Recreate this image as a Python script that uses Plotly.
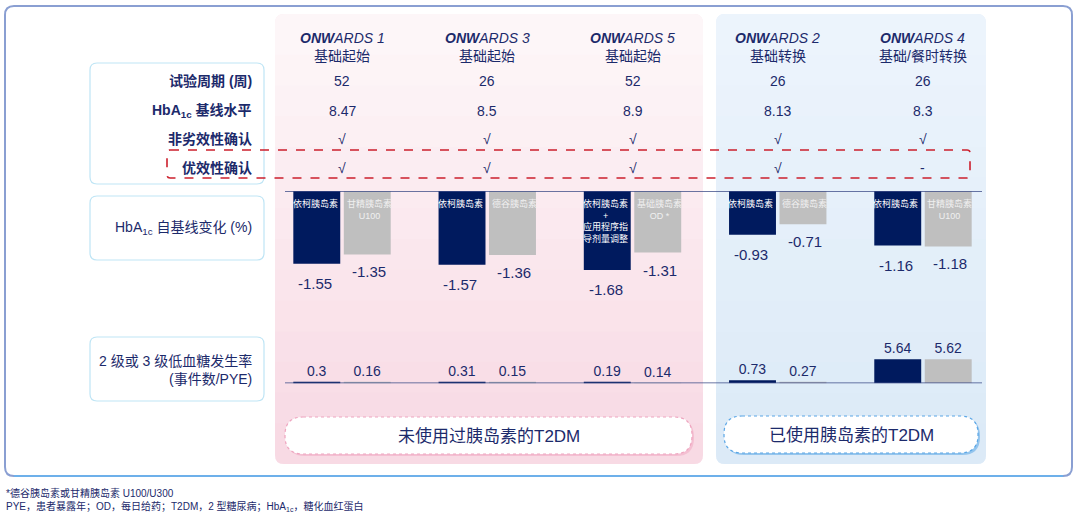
import plotly.graph_objects as go

W, H = 1080, 517

# ---------------- data ----------------
trials = ["ONWARDS 1", "ONWARDS 3", "ONWARDS 5", "ONWARDS 2", "ONWARDS 4"]
trial_nums = ["1", "3", "5", "2", "4"]
subtitles = ["基础起始", "基础起始", "基础起始", "基础转换", "基础/餐时转换"]
weeks = ["52", "26", "52", "26", "26"]
baseline_hba1c = ["8.47", "8.5", "8.9", "8.13", "8.3"]
noninferiority = ["√", "√", "√", "√", "√"]
superiority = ["√", "√", "√", "√", "-"]

efs_hba1c = [-1.55, -1.57, -1.68, -0.93, -1.16]
cmp_hba1c = [-1.35, -1.36, -1.31, -0.71, -1.18]
efs_hypo = [0.3, 0.31, 0.19, 0.73, 5.64]
cmp_hypo = [0.16, 0.15, 0.14, 0.27, 5.62]

efs_names = ["依柯胰岛素", "依柯胰岛素", "依柯胰岛素<br>+<br>应用程序指<br>导剂量调整", "依柯胰岛素", "依柯胰岛素"]
cmp_names = ["甘精胰岛素<br>U100", "德谷胰岛素", "基础胰岛素<br>OD *", "德谷胰岛素", "甘精胰岛素<br>U100"]

row_labels = ["试验周期 (周)", "HbA<sub>1c</sub> 基线水平", "非劣效性确认", "优效性确认"]
hba1c_label = "HbA<sub>1c</sub> 自基线变化 (%)"
hypo_label = "2 级或 3 级低血糖发生率<br>(事件数/PYE)"
group_labels = ["未使用过胰岛素的T2DM", "已使用胰岛素的T2DM"]
footnotes = ["*德谷胰岛素或甘精胰岛素 U100/U300",
             "PYE，患者暴露年；OD，每日给药；T2DM，2 型糖尿病；HbA<sub>1c</sub>，糖化血红蛋白"]

# ---------------- style ----------------
NAVY = "#001a5e"
GRAY = "#bfbfbf"
TXT = "#1c2a6b"
FONT = "Liberation Sans, Arial, Noto Sans CJK SC, sans-serif"


def px(x):
    return x / W


def py(y):
    return 1 - y / H


def rr_path(x0, y0, x1, y1, r):
    X0, X1 = px(x0), px(x1)
    Y0, Y1 = py(y0), py(y1)
    rx, ry = r / W, r / H
    return (f"M {X0+rx},{Y0} L {X1-rx},{Y0} Q {X1},{Y0} {X1},{Y0-ry} "
            f"L {X1},{Y1+ry} Q {X1},{Y1} {X1-rx},{Y1} L {X0+rx},{Y1} "
            f"Q {X0},{Y1} {X0},{Y1+ry} L {X0},{Y0-ry} Q {X0},{Y0} {X0+rx},{Y0} Z")


shapes = []


def rbox(x0, y0, x1, y1, r, fill, line, lw=1, dash="solid", layer="below"):
    shapes.append(dict(type="path", path=rr_path(x0, y0, x1, y1, r), xref="paper", yref="paper",
                       fillcolor=fill, line=dict(color=line, width=lw, dash=dash), layer=layer))


# outer frame
rbox(5, 6, 1072, 476, 9, "white", "#8a9fd2", 2)
shapes.append(dict(type="line", xref="paper", yref="paper", x0=px(14), x1=px(1063), y0=py(476), y1=py(476),
                   line=dict(color="#6db0ea", width=2), layer="below"))
# group panels (vertical gradient approximated with bands)
pink_top, pink_bot = (253, 246, 248), (248, 218, 228)
blue_top, blue_bot = (236, 244, 252), (220, 234, 247)
rbox(275, 14, 703, 464, 9, "rgb(251,236,241)", "rgba(0,0,0,0)", 0)
rbox(716, 14, 986, 464, 9, "rgb(228,238,249)", "rgba(0,0,0,0)", 0)
nb = 14
for i in range(nb):
    t = i / (nb - 1)
    y0 = 24 + i * (430 / nb)
    y1 = y0 + 430 / nb + 0.6
    pc = tuple(round(pink_top[k] + (pink_bot[k] - pink_top[k]) * t) for k in range(3))
    bc = tuple(round(blue_top[k] + (blue_bot[k] - blue_top[k]) * t) for k in range(3))
    shapes.append(dict(type="rect", xref="paper", yref="paper", x0=px(275), x1=px(703), y0=py(y0), y1=py(y1),
                       fillcolor=f"rgb{pc}", line=dict(width=0), layer="below"))
    shapes.append(dict(type="rect", xref="paper", yref="paper", x0=px(716), x1=px(986), y0=py(y0), y1=py(y1),
                       fillcolor=f"rgb{bc}", line=dict(width=0), layer="below"))
rbox(275, 440, 703, 464, 9, "rgb(248,218,228)", "rgba(0,0,0,0)", 0)
rbox(716, 440, 986, 464, 9, "rgb(220,234,247)", "rgba(0,0,0,0)", 0)
rbox(275, 14, 703, 40, 9, "rgb(253,246,248)", "rgba(0,0,0,0)", 0)
rbox(716, 14, 986, 40, 9, "rgb(236,244,252)", "rgba(0,0,0,0)", 0)

# left label boxes
rbox(90, 63, 264, 184, 7, "white", "#bfe5f5", 1.2)
rbox(90, 196, 264, 260, 7, "white", "#bfe5f5", 1.2)
rbox(90, 337, 264, 401, 7, "white", "#bfe5f5", 1.2)

# pills
rbox(287, 419, 694, 456, 18, "rgba(240,170,195,0.55)", "rgba(0,0,0,0)", 0)
rbox(285, 417, 692, 454, 18, "white", "#eea5bf", 1.2, "dot")
rbox(726, 418, 980, 455, 18, "rgba(90,165,230,0.55)", "rgba(0,0,0,0)", 0)
rbox(724, 416, 978, 453, 18, "white", "#5aa6e6", 1.2, "dot")

# red dashed highlight
rbox(167, 150, 970, 178, 3, "rgba(0,0,0,0)", "#cc1f2c", 1.6, "dash", layer="above")

# baselines
shapes.append(dict(type="line", xref="paper", yref="y", x0=px(285), x1=px(982), y0=0, y1=0,
                   line=dict(color="#3a4a86", width=1.5), layer="above"))
shapes.append(dict(type="line", xref="paper", yref="y2", x0=px(285), x1=px(982), y0=0, y1=0,
                   line=dict(color="#3a4a86", width=1.5), layer="above"))

fig = go.Figure()
fig.add_trace(go.Bar(x=trials, y=efs_hba1c, marker=dict(color=NAVY, line=dict(width=0)), xaxis="x", yaxis="y",
                     showlegend=False, hoverinfo="skip"))
fig.add_trace(go.Bar(x=trials, y=cmp_hba1c, marker=dict(color=GRAY, line=dict(width=0)), xaxis="x", yaxis="y",
                     showlegend=False, hoverinfo="skip"))
fig.add_trace(go.Bar(x=trials, y=efs_hypo, marker=dict(color=NAVY, line=dict(width=0)), xaxis="x2", yaxis="y2",
                     text=[f"{v}" for v in efs_hypo], textposition="outside", cliponaxis=False,
                     textfont=dict(size=14, color=TXT, family=FONT), showlegend=False, hoverinfo="skip"))
fig.add_trace(go.Bar(x=trials, y=cmp_hypo, marker=dict(color=GRAY, line=dict(width=0)), xaxis="x2", yaxis="y2",
                     text=[f"{v}" for v in cmp_hypo], textposition="outside", cliponaxis=False,
                     textfont=dict(size=14, color=TXT, family=FONT), showlegend=False, hoverinfo="skip"))

ann = []


def A(**kw):
    kw.setdefault("showarrow", False)
    kw.setdefault("yanchor", "middle")
    kw.setdefault("xanchor", "center")
    ann.append(kw)


BAR_OFF = 27
for i, t in enumerate(trials):
    # headers
    A(x=t, xref="x", y=py(38), yref="paper",
      text=f"<b><i>ONW</i></b><i>ARDS {trial_nums[i]}</i>", font=dict(size=14, color=TXT))
    A(x=t, xref="x", y=py(56), yref="paper", text=subtitles[i], font=dict(size=14, color=TXT))
    for val, yy in zip([weeks[i], baseline_hba1c[i], noninferiority[i], superiority[i]], [81, 111, 139, 168]):
        A(x=t, xref="x", y=py(yy), yref="paper", text=val, font=dict(size=14, color=TXT))
    # value labels below hba1c bars
    A(x=t, xref="x", y=efs_hba1c[i], yref="y", yanchor="top", yshift=-9, xshift=-BAR_OFF,
      text=f"{efs_hba1c[i]:.2f}", font=dict(size=15, color=TXT))
    A(x=t, xref="x", y=cmp_hba1c[i], yref="y", yanchor="top", yshift=-7, xshift=BAR_OFF,
      text=f"{cmp_hba1c[i]:.2f}", font=dict(size=15, color=TXT))
    # names inside bars
    A(x=t, xref="x", y=0, yref="y", yanchor="top", yshift=-5, xshift=-BAR_OFF,
      text=efs_names[i], font=dict(size=9, color="white"))
    A(x=t, xref="x", y=0, yref="y", yanchor="top", yshift=-5, xshift=BAR_OFF,
      text=cmp_names[i], font=dict(size=9, color="#f0f0f0"))

for lab, yy in zip(row_labels, [81, 111, 139, 168]):
    A(x=px(254), xref="paper", y=py(yy), yref="paper", xanchor="right", text=f"<b>{lab}</b>",
      font=dict(size=14, color=TXT))
A(x=px(254), xref="paper", y=py(228), yref="paper", xanchor="right", text=hba1c_label,
  font=dict(size=14, color=TXT))
A(x=px(254), xref="paper", y=py(370), yref="paper", xanchor="right", align="right", text=hypo_label,
  font=dict(size=14, color=TXT))
A(x=px(489), xref="paper", y=py(436), yref="paper", text=group_labels[0], font=dict(size=17, color=TXT))
A(x=px(851), xref="paper", y=py(435), yref="paper", text=group_labels[1], font=dict(size=17, color=TXT))
A(x=px(4), xref="paper", y=py(493), yref="paper", xanchor="left", text=footnotes[0],
  font=dict(size=10, color=TXT))
A(x=px(4), xref="paper", y=py(506), yref="paper", xanchor="left", text=footnotes[1],
  font=dict(size=10, color=TXT))

XDOM = [px(269.4), px(995.6)]
fig.update_layout(
    width=W, height=H, margin=dict(l=0, r=0, t=0, b=0),
    paper_bgcolor="white", plot_bgcolor="rgba(0,0,0,0)",
    font=dict(family=FONT, color=TXT),
    barmode="group", bargap=0.305, bargroupgap=0.07,
    xaxis=dict(domain=XDOM, visible=False, range=[-0.5, 4.5], fixedrange=True),
    yaxis=dict(domain=[py(285), py(191)], range=[-2, 0], visible=False, fixedrange=True),
    xaxis2=dict(domain=XDOM, visible=False, range=[-0.5, 4.5], matches="x", anchor="y2"),
    yaxis2=dict(domain=[py(383.3), py(340.7)], range=[0, 10], visible=False, anchor="x2"),
    shapes=shapes, annotations=ann,
)

fig.write_html("out.html")
